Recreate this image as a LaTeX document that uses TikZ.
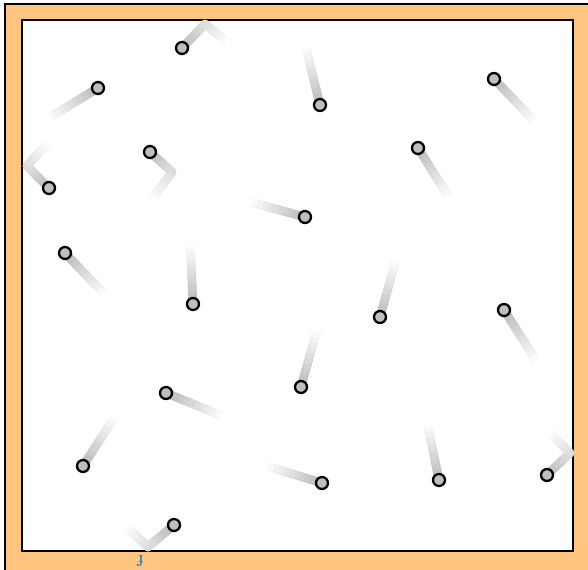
\documentclass[tikz,border=0pt]{standalone}
\usetikzlibrary{calc}
\definecolor{wallorange}{RGB}{255,196,128}
\definecolor{markblue}{RGB}{30,140,205}
\tikzset{
  ball/.style={circle,draw=black,fill=black!25,line width=1.3pt,inner sep=0pt,minimum size=0.24cm},
  trailline/.style={line width=5pt,line cap=round},
}
% fading trail from #1 to #2, shade goes from #3 to #4
\newcommand\trail[4]{%
  \foreach \k in {0,...,11}{%
    \pgfmathsetmacro\ta{\k/12}\pgfmathsetmacro\tb{(\k+1)/12}%
    \pgfmathsetmacro\sh{#3+(#4-#3)*\k/11}%
    \draw[trailline,draw=black!\sh] ($#1!\ta!#2$) -- ($#1!\tb!#2$);}}
\begin{document}
\begin{tikzpicture}[x=0.02cm,y=-0.02cm]
\clip (0,0) rectangle (588,569);
\fill[white] (0,0) rectangle (588,569);
\draw[fill=wallorange,line width=1.1pt] (5,4) rectangle (600,585);
\draw[fill=white,line width=1.4pt] (22,20) rectangle (573,551);
% straight trails
\foreach \x/\y/\ex/\ey in {98/88/42/122, 320/105/304/40, 494/79/540/127, 418/148/453/204,
  305/217/243/200, 65/253/110/300, 193/304/190/238, 380/317/398/253, 504/310/541/368,
  301/387/319/323, 166/393/230/419, 83/466/119/410, 322/483/260/464, 439/480/426/417}
  \trail{(\x,\y)}{(\ex,\ey)}{28}{0};
% trails that bounce off a wall
\foreach \x/\y/\cx/\cy/\ex/\ey in {182/48/205/24/232/46, 49/188/27/166/52/138,
  150/152/172/172/148/205, 547/475/570/453/545/428, 174/525/148/547/122/522} {
  \trail{(\x,\y)}{(\cx,\cy)}{28}{14}
  \trail{(\cx,\cy)}{(\ex,\ey)}{14}{0}
}
% balls
\foreach \n/\x/\y in {1/182/48, 2/98/88, 3/320/105, 4/494/79, 5/49/188, 6/150/152,
  7/418/148, 8/305/217, 9/65/253, 10/193/304, 11/380/317, 12/504/310, 13/301/387,
  14/166/393, 15/83/466, 16/322/483, 17/439/480, 18/547/475, 19/174/525}
  \node[ball] (b\n) at (\x,\y) {};
\node[font=\small\bfseries,text=markblue,inner sep=0pt] (mark) at (141,561) {\rotatebox{180}{f}};
\end{tikzpicture}
\end{document}
